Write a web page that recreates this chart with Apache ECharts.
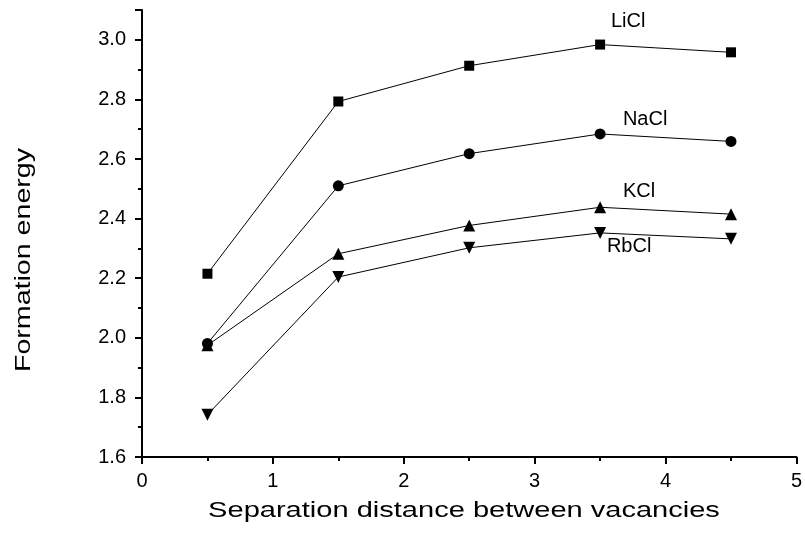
<!DOCTYPE html>
<html>
<head>
<meta charset="utf-8">
<script src="https://cdn.jsdelivr.net/npm/echarts@6/dist/echarts.min.js"></script>
<style>
  html, body { margin: 0; padding: 0; background: #fff; }
  #chart { width: 805px; height: 543px; }
</style>
</head>
<body>
<div id="chart"></div>
<script>
var distances = [0.5, 1.5, 2.5, 3.5, 4.5];
var licl = [2.215, 2.793, 2.913, 2.984, 2.958];
var nacl = [1.981, 2.51, 2.618, 2.684, 2.659];
var kcl = [1.975, 2.282, 2.377, 2.438, 2.415];
var rbcl = [1.742, 2.204, 2.302, 2.352, 2.332];

var chart = echarts.init(document.getElementById("chart"));

function pairs(vals, labelIdx, labelText, off) {
  return vals.map(function (v, i) {
    var item = { value: [distances[i], v] };
    if (i === labelIdx) {
      item.label = {
        show: true,
        formatter: labelText,
        position: "inside",
        offset: off,
        color: "#000",
        fontFamily: "Liberation Sans",
        fontSize: 20
      };
    }
    return item;
  });
}

function line(name, vals, symbol, size, rotate, lbl, off) {
  return {
    name: name,
    type: "line",
    data: pairs(vals, 3, lbl, off),
    symbol: symbol,
    symbolSize: size,
    symbolRotate: rotate,
    showAllSymbol: true,
    lineStyle: { color: "#000", width: 1 },
    itemStyle: { color: "#000" },
    label: { show: false },
    emphasis: { disabled: true },
    animation: false
  };
}

var option = {
  backgroundColor: "#fff",
  grid: { left: 142, right: 7, top: 10, bottom: 86 },
  xAxis: {
    type: "value",
    min: 0,
    max: 5,
    interval: 1,
    axisLine: { lineStyle: { color: "#000", width: 2 } },
    axisTick: { length: 7, lineStyle: { color: "#000", width: 2 } },
    minorTick: { show: true, splitNumber: 2, length: 4, lineStyle: { color: "#000", width: 2 } },
    axisLabel: { color: "#000", fontFamily: "Liberation Sans", fontSize: 20, margin: 14 },
    splitLine: { show: false }
  },
  yAxis: {
    type: "value",
    min: 1.6,
    max: 3.1,
    interval: 0.2,
    axisLine: { show: true, lineStyle: { color: "#000", width: 2 } },
    axisTick: { show: true, length: 7, lineStyle: { color: "#000", width: 2 } },
    minorTick: { show: true, splitNumber: 2, length: 4, lineStyle: { color: "#000", width: 2 } },
    axisLabel: {
      color: "#000", fontFamily: "Liberation Sans", fontSize: 20, margin: 16,
      showMaxLabel: false,
      formatter: function (v) { return v.toFixed(1); }
    },
    splitLine: { show: false }
  },
  // axis titles: wide lettering in the original, so stretched horizontally
  graphic: [{
    type: "text",
    x: 24,
    y: 260,
    rotation: Math.PI / 2,
    scaleX: 1.3,
    style: {
      text: "Formation energy",
      font: "22px 'Liberation Sans'",
      fill: "#000",
      align: "center",
      verticalAlign: "middle"
    }
  }, {
    type: "text",
    x: 464,
    y: 511,
    scaleX: 1.32,
    style: {
      text: "Separation distance between vacancies",
      font: "22px 'Liberation Sans'",
      fill: "#000",
      align: "center",
      verticalAlign: "middle"
    }
  }],
  series: [
    line("LiCl", licl, "rect", 10, 0, "LiCl", [28, -23]),
    line("NaCl", nacl, "circle", 11, 0, "NaCl", [45, -14]),
    line("KCl", kcl, "triangle", 12, 0, "KCl", [39, -16]),
    line("RbCl", rbcl, "triangle", 12, 180, "RbCl", [29, 14])
  ]
};

chart.setOption(option);
</script>
</body>
</html>
